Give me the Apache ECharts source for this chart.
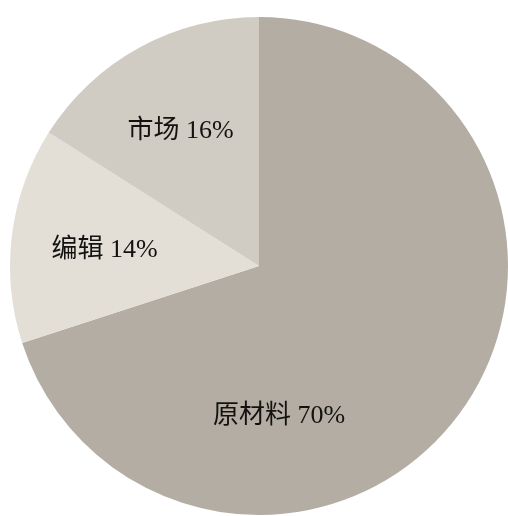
<!DOCTYPE html>
<html>
<head>
<meta charset="utf-8">
<script src="https://cdn.jsdelivr.net/npm/echarts@6/dist/echarts.min.js"></script>
<style>
  html, body { margin: 0; padding: 0; background: #ffffff; }
  #chart { width: 508px; height: 516px; }
</style>
</head>
<body>
<div id="chart"></div>
<script>
// Cost breakdown: categories and their shares (percent)
const categories = ['原材料', '编辑', '市场'];
const shares = [70, 14, 16];
const sliceColors = ['#b4ada4', '#e3dfd7', '#d1ccc3'];
// label nudges from the default inside position, per slice
const labelOffsets = [[-83, 75], [-28, 0], [-17, -23]];

const chart = echarts.init(document.getElementById('chart'), null, { renderer: 'canvas' });

chart.setOption({
  backgroundColor: '#ffffff',
  animation: false,
  series: [{
    type: 'pie',
    center: [259, 266],
    radius: [0, 249],
    startAngle: 90,
    clockwise: true,
    silent: true,
    itemStyle: { borderWidth: 0 },
    label: {
      show: true,
      position: 'inside',
      color: '#141210',
      fontSize: 26,
      fontFamily: '"Liberation Serif", "Noto Sans CJK SC", serif',
      formatter: p => p.name + ' ' + p.value + '%'
    },
    labelLine: { show: false },
    data: categories.map((name, i) => ({
      name: name,
      value: shares[i],
      itemStyle: { color: sliceColors[i] },
      label: { offset: labelOffsets[i] }
    }))
  }]
});
</script>
</body>
</html>
